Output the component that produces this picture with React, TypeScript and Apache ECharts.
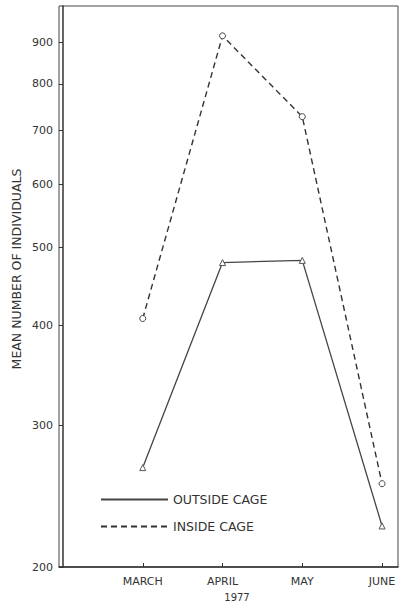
import React, { useEffect, useRef } from "react";
import * as echarts from "echarts";

const months = ["MARCH", "APRIL", "MAY", "JUNE"];
const monthPos = [1, 2, 3, 4];
const outsideCage = [266, 479, 482, 225];
const insideCage = [408, 918, 728, 254];
const yTicks = [200, 300, 400, 500, 600, 700, 800, 900];
const yearLabel = "1977";
const yName = "MEAN NUMBER OF INDIVIDUALS";

const FONT = "DejaVu Sans";
const INK = "#333";

export default function App() {
  const ref = useRef<HTMLDivElement>(null);
  useEffect(() => {
    if (!ref.current) return;
    const chart = echarts.init(ref.current, undefined, { renderer: "svg" });
    const toPairs = (vals: number[]) => vals.map((v, i) => [monthPos[i], v]);
    chart.setOption({
      animation: false,
      backgroundColor: "#fff",
      grid: {
        left: 59,
        right: 1,
        top: 6,
        bottom: 38,
        show: true,
        borderColor: "#444",
        borderWidth: 1,
      },
      xAxis: {
        type: "value",
        min: -0.05,
        max: 4.2,
        splitLine: { show: false },
        axisLine: { lineStyle: { color: INK, width: 1.5 } },
        axisTick: {
          show: true,
          inside: true,
          length: 4,
          customValues: monthPos,
          lineStyle: { color: INK },
        },
        axisLabel: {
          customValues: monthPos,
          formatter: (v: number) => months[monthPos.indexOf(v)] ?? "",
          fontFamily: FONT,
          fontSize: 11,
          color: INK,
          margin: 9,
        },
      },
      yAxis: {
        type: "log",
        logBase: 10,
        min: 200,
        max: 1000,
        splitLine: { show: false },
        axisLine: { lineStyle: { color: INK, width: 1.5 } },
        axisTick: {
          show: true,
          length: 4,
          customValues: yTicks,
          lineStyle: { color: INK },
        },
        axisLabel: {
          customValues: yTicks,
          formatter: (v: number) => String(v),
          fontFamily: FONT,
          fontSize: 11,
          color: INK,
          margin: 6,
        },
      },
      legend: {
        orient: "vertical",
        left: 100,
        top: 493,
        padding: 0,
        itemWidth: 67,
        itemHeight: 12,
        itemGap: 14,
        textStyle: { fontFamily: FONT, fontSize: 12.5, color: INK },
        itemStyle: { opacity: 0 },
        data: ["OUTSIDE CAGE", "INSIDE CAGE"],
      },
      graphic: [
        {
          type: "text",
          x: 16,
          y: 269,
          rotation: Math.PI / 2,
          style: {
            text: yName,
            fontFamily: FONT,
            fontSize: 12.5,
            fill: INK,
            align: "center",
            verticalAlign: "middle",
          },
        },
        {
          type: "text",
          x: 237,
          y: 597,
          style: {
            text: yearLabel,
            fontFamily: FONT,
            fontSize: 10,
            fill: INK,
            align: "center",
            verticalAlign: "middle",
          },
        },
      ],
      series: [
        {
          name: "OUTSIDE CAGE",
          type: "line",
          data: toPairs(outsideCage),
          symbol: "triangle",
          symbolSize: 6,
          showAllSymbol: true,
          itemStyle: { color: "#fff", borderColor: "#555", borderWidth: 1 },
          lineStyle: { color: "#444", width: 1.3, type: "solid" },
          z: 3,
        },
        {
          name: "INSIDE CAGE",
          type: "line",
          data: toPairs(insideCage),
          symbol: "circle",
          symbolSize: 6,
          showAllSymbol: true,
          itemStyle: { color: "#fff", borderColor: "#444", borderWidth: 1, opacity: 1 },
          lineStyle: { color: "#333", width: 1.4, type: [6, 4] },
          z: 3,
        },
      ],
    });
    return () => chart.dispose();
  }, []);
  return (
    <div
      ref={ref}
      style={{ position: "fixed", left: 0, top: 0, width: 399, height: 605 }}
    />
  );
}
